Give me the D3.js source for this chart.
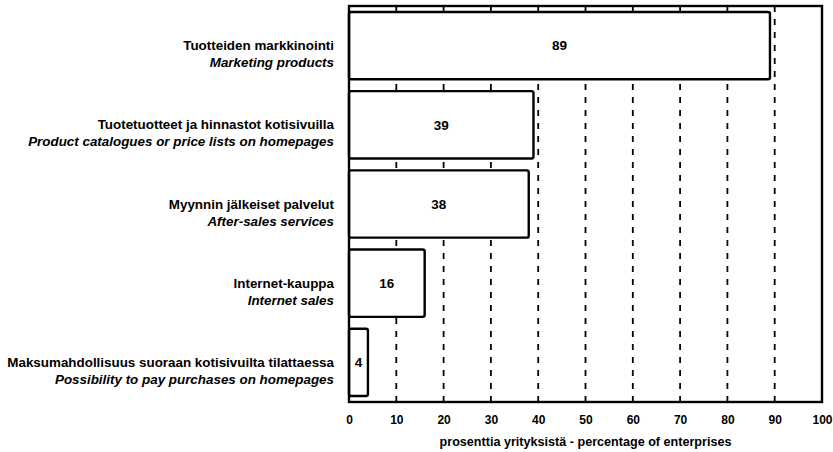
<!DOCTYPE html>
<html><head><meta charset="utf-8">
<script src="https://cdn.jsdelivr.net/npm/d3@7"></script>
<style>
body{margin:0;background:#fff;}
text{font-family:"Liberation Sans",Arial,Helvetica,sans-serif;fill:#000;}
</style></head>
<body><svg id="c" width="833" height="452"></svg>
<script>
const categoriesFi = ["Tuotteiden markkinointi","Tuotetuotteet ja hinnastot kotisivuilla","Myynnin jälkeiset palvelut","Internet-kauppa","Maksumahdollisuus suoraan kotisivuilta tilattaessa"];
const categoriesEn = ["Marketing products","Product catalogues or price lists on homepages","After-sales services","Internet sales","Possibility to pay purchases on homepages"];
const values = [89,39,38,16,4];
const xTicks = [0,10,20,30,40,50,60,70,80,90,100];
const xTitle = "prosenttia yrityksistä - percentage of enterprises";

const svg = d3.select("#c");
const m = {l:349, r:822, t:6, b:402};
const x = d3.scaleLinear().domain([0,100]).range([m.l, m.r]);
const y = d3.scaleBand().domain(d3.range(values.length)).range([m.t, m.b]).paddingInner(0.15).paddingOuter(0.075);

// grid
svg.append("g").selectAll("line").data(xTicks.filter(d=>d>0&&d<100)).join("line")
  .attr("x1",d=>x(d)).attr("x2",d=>x(d)).attr("y1",m.t).attr("y2",m.b)
  .attr("stroke","#000").attr("stroke-width",1.8).attr("stroke-dasharray","6,7");

// bars
svg.append("g").selectAll("rect").data(values).join("rect")
  .attr("x",x(0)).attr("y",(d,i)=>y(i)).attr("width",d=>x(d)-x(0)).attr("height",y.bandwidth())
  .attr("rx",2).attr("fill","#fff").attr("stroke","#000").attr("stroke-width",2.4);

// value labels
svg.append("g").selectAll("text").data(values).join("text")
  .attr("x",d=>(x(0)+x(d))/2).attr("y",(d,i)=>y(i)+y.bandwidth()/2).attr("dy","0.35em")
  .attr("text-anchor","middle").attr("font-size",13.5).attr("font-weight","bold").text(d=>d);

// frame
svg.append("rect").attr("x",m.l).attr("y",m.t).attr("width",m.r-m.l).attr("height",m.b-m.t)
  .attr("fill","none").attr("stroke","#000").attr("stroke-width",2.4);

// category labels
const lab = svg.append("g");
categoriesFi.forEach((c,i)=>{
  const cy = y(i)+y.bandwidth()/2;
  lab.append("text").attr("x",334).attr("y",cy).attr("dy","0.35em").attr("text-anchor","end")
    .attr("font-size",13.4).attr("font-weight","bold").text(c);
  lab.append("text").attr("x",334).attr("y",cy+17).attr("dy","0.35em").attr("text-anchor","end")
    .attr("font-size",13.4).attr("font-weight","bold").attr("font-style","italic").text(categoriesEn[i]);
});

// x axis
const ax = d3.axisBottom(x).tickValues(xTicks).tickSize(0).tickPadding(13);
const g = svg.append("g").attr("transform",`translate(0,${m.b})`).call(ax);
g.select(".domain").remove();
g.selectAll("text").attr("font-size",12).attr("font-weight","bold")
  .style("font-family",'"Liberation Sans",Arial,sans-serif');

svg.append("text").attr("x",(m.l+m.r)/2).attr("y",446).attr("text-anchor","middle")
  .attr("font-size",12.6).attr("font-weight","bold").text(xTitle);
</script></body></html>
